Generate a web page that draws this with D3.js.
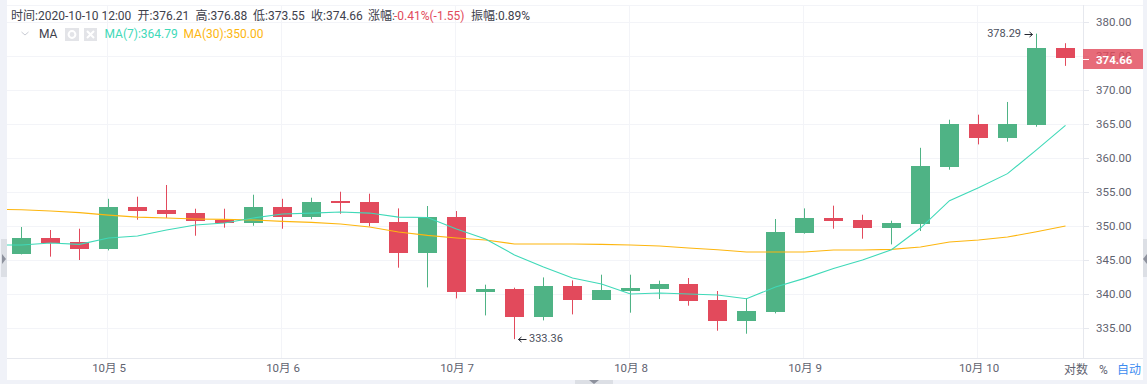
<!DOCTYPE html>
<html>
<head>
<meta charset="utf-8">
<script src="https://cdn.jsdelivr.net/npm/d3@7"></script>
<style>
html, body { margin: 0; padding: 0; background: #f0f2f8; overflow: hidden; }
text { font-family: Roboto, "Noto Sans CJK SC", sans-serif; }
</style>
</head>
<body>
<div id="container" style="width:1147px;height:384px"></div>
<script>
// data, 4h candles from 2020-10-04 12:00
const startTime = Date.UTC(2020, 9, 4, 12);
const opens = [345.82, 348.28, 347.69, 346.66, 352.84, 352.4, 351.96, 350.93, 350.49, 352.84, 351.37, 353.72, 353.57, 350.63, 346.07, 351.37, 340.34, 340.78, 336.66, 341.22, 339.16, 340.49, 340.78, 341.51, 339.16, 336.07, 337.4, 349.01, 351.22, 350.93, 349.75, 350.34, 358.72, 365.04, 363, 364.9, 376.21];
const closes = [348.28, 347.54, 346.66, 352.84, 352.25, 351.8, 350.78, 350.49, 352.84, 351.37, 353.57, 353.43, 350.49, 346.07, 351.37, 340.34, 340.78, 336.66, 341.22, 339.16, 340.63, 340.93, 341.51, 339.01, 336.07, 337.54, 349.16, 351.22, 350.78, 349.75, 350.49, 358.87, 365.04, 363, 365.04, 376.2, 374.66];
const highs = [349.85, 349.41, 349.6, 354, 354.31, 356.03, 352.54, 352.54, 354.6, 354, 354.16, 355.04, 354.75, 352.59, 352.94, 352.2, 341.37, 340.93, 342.44, 342, 342.84, 342.84, 341.96, 342.35, 340.44, 339.41, 351.03, 352.59, 352.99, 351.66, 350.78, 361.5, 365.63, 366.37, 368.24, 378.29, 376.88];
const lows = [345.82, 345.49, 345, 346.41, 350.93, 351.18, 348.57, 349.75, 350.04, 349.6, 351, 351.8, 349.94, 343.87, 340.97, 339.35, 336.85, 333.36, 336.12, 337, 339.16, 337.25, 339.26, 338.28, 334.6, 334.16, 337.15, 348.87, 349.6, 348.13, 347.3, 349.26, 358.28, 362, 362.4, 364.6, 373.55];
// the two MA lines start one candle earlier, off the left edge
const ma7 = [347.2, 347.2, 347.5, 347.3, 348.24, 348.53, 349.41, 350.15, 350.44, 351.18, 351.76, 351.9, 352.06, 351.9, 351.3, 351.26, 349.56, 348.09, 345.74, 343.97, 342.35, 341.47, 340, 340.15, 340, 339.85, 339.3, 341.03, 342.3, 343.76, 345, 346.5, 349.7, 353.72, 355.63, 357.7, 361.2, 364.79];
const ma30 = [352.45, 352.4, 352.2, 351.96, 351.6, 351.3, 351.18, 351.03, 350.97, 350.88, 350.68, 350.53, 350.29, 349.85, 349.12, 348.62, 348.24, 347.94, 347.35, 347.35, 347.35, 347.3, 347.2, 347.06, 346.76, 346.5, 346.18, 346.18, 346.18, 346.47, 346.47, 346.56, 346.91, 347.65, 347.94, 348.38, 349.16, 350];
const yTicks = [335, 340, 345, 350, 355, 360, 365, 370, 375, 380];
const dayTicks = [5, 6, 7, 8, 9, 10];

const H4 = 4 * 3600 * 1000;
const up = "#4fb385", down = "#e24a5c";
const grid = "#f3f4f8", axisLine = "#e6e8ee", labelColor = "#5f6370";

let width = 1147, height = 384;
let svg = d3.select("#container").append("svg")
    .attr("width", width).attr("height", height)
    .style("display", "block");

// panel
svg.append("rect").attr("x", 7).attr("y", 0).attr("width", 1136).attr("height", 380).attr("fill", "#fff");
svg.append("line").attr("x1", 7).attr("x2", 1143).attr("y1", 5.5).attr("y2", 5.5).attr("stroke", grid);

// scales
let xScale = d3.scaleUtc()
    .domain([new Date(startTime), new Date(startTime + 36 * H4)])
    .range([21.5, 1065.5]);
let yScale = d3.scaleLinear().domain([335, 380]).range([328, 22]);
let timeOf = i => new Date(startTime + i * H4);
let snap = v => Math.round(v);

// grid
svg.append("g").selectAll("line").data(yTicks).enter().append("line")
    .attr("x1", 7).attr("x2", 1083)
    .attr("y1", d => yScale(d) + 0.5).attr("y2", d => yScale(d) + 0.5)
    .attr("stroke", grid);
let dayDates = dayTicks.map(d => new Date(Date.UTC(2020, 9, d)));
svg.append("g").selectAll("line").data(dayDates).enter().append("line")
    .attr("x1", d => xScale(d) - 1).attr("x2", d => xScale(d) - 1)
    .attr("y1", 5).attr("y2", 358)
    .attr("stroke", grid);

// axes
let yg = svg.append("g").attr("transform", "translate(1083,0)")
    .call(d3.axisRight(yScale).tickValues(yTicks).tickFormat(d3.format(".2f")).tickSize(6).tickPadding(7));
yg.select(".domain").attr("stroke", axisLine).attr("d", "M0.5,5V358");
yg.selectAll(".tick line").attr("stroke", axisLine);
yg.selectAll("text").attr("fill", labelColor).style("font-size", "11.5px");

let xg = svg.append("g").attr("transform", "translate(0,358)")
    .call(d3.axisBottom(xScale).tickValues(dayDates).tickFormat(d => "10月 " + d.getUTCDate()).tickSize(0).tickPadding(6));
xg.select(".domain").attr("stroke", axisLine).attr("d", "M7,0.5H1143");
xg.selectAll("text").attr("fill", labelColor).style("font-size", "11.5px");

// candles
let plot = svg.append("g");
let candles = plot.selectAll("g").data(opens.map((o, i) => i)).enter().append("g");
let colorOf = i => closes[i] >= opens[i] ? up : down;
candles.append("line")
    .attr("x1", i => xScale(timeOf(i))).attr("x2", i => xScale(timeOf(i)))
    .attr("y1", i => yScale(highs[i])).attr("y2", i => yScale(lows[i]))
    .attr("stroke", colorOf);
candles.append("rect")
    .attr("x", i => xScale(timeOf(i)) - 9.5)
    .attr("width", 19)
    .attr("y", i => snap(yScale(Math.max(opens[i], closes[i]))))
    .attr("height", i => Math.max(1, snap(yScale(Math.min(opens[i], closes[i]))) - snap(yScale(Math.max(opens[i], closes[i])))))
    .attr("fill", colorOf);

// MA lines
svg.append("clipPath").attr("id", "plotClip").append("rect")
    .attr("x", 7).attr("y", 5).attr("width", 1076).attr("height", 353);
let line = d3.line()
    .x((d, i) => xScale(timeOf(i - 1)))
    .y(d => yScale(d));
[[ma30, "#fdb60f"], [ma7, "#3fd9b8"]].forEach(function (s) {
    svg.append("path")
        .attr("clip-path", "url(#plotClip)")
        .attr("d", line(s[0]))
        .attr("fill", "none")
        .attr("stroke", s[1])
        .attr("stroke-width", 1.1);
});

// max / min labels
function note(x, y, str, anchor) {
    svg.append("text").attr("x", x).attr("y", y).attr("text-anchor", anchor)
        .attr("fill", "#4b4f5c").style("font-size", "11px").text(str);
}
function arrow(x1, x2, y) {
    let dir = x2 > x1 ? -1 : 1;
    svg.append("path")
        .attr("d", "M" + x1 + "," + y + "H" + x2 + "m" + (3 * dir) + ",-2.5l" + (-3 * dir) + ",2.5l" + (3 * dir) + ",2.5")
        .attr("fill", "none").attr("stroke", "#23262f");
}
let hiIdx = d3.maxIndex(highs), loIdx = d3.minIndex(lows);
note(xScale(timeOf(hiIdx)) - 15.5, yScale(highs[hiIdx]) + 3.5, highs[hiIdx].toFixed(2), "end");
arrow(xScale(timeOf(hiIdx)) - 12, xScale(timeOf(hiIdx)) - 4, Math.round(yScale(highs[hiIdx])) + 0.5);
note(xScale(timeOf(loIdx)) + 14.5, yScale(lows[loIdx]) + 2.8, lows[loIdx].toFixed(2), "start");
arrow(xScale(timeOf(loIdx)) + 12, xScale(timeOf(loIdx)) + 4, Math.round(yScale(lows[loIdx])) + 0.5);

// last price tag
let last = closes[closes.length - 1];
svg.append("rect").attr("x", 1083).attr("y", 49).attr("width", 60).attr("height", 20)
    .attr("fill", down).attr("fill-opacity", 0.82);
svg.append("line").attr("x1", 1083).attr("x2", 1089).attr("y1", 59.5).attr("y2", 59.5).attr("stroke", "#fff");
svg.append("text").attr("x", 1096).attr("y", 63.5).attr("fill", "#fff")
    .style("font-size", "11.5px").style("font-weight", "bold").text(last.toFixed(2));

// header text
function label(x, y, str, color) {
    svg.append("text").attr("x", x).attr("y", y).attr("fill", color)
        .style("font-size", "12px").text(str);
}
let ink = "#3e414c";
label(11, 20, "时间:2020-10-10 12:00", ink);
label(137.5, 20, "开:376.21", ink);
label(195.5, 20, "高:376.88", ink);
label(253, 20, "低:373.55", ink);
label(311, 20, "收:374.66", ink);
label(368, 20, "涨幅:", ink);
label(394, 20, "-0.41%(-1.55)", down);
label(471, 20, "振幅:0.89%", ink);
label(39, 38, "MA", ink);
label(104.5, 38, "MA(7):" + ma7[ma7.length - 1].toFixed(2), "#3fd9b8");
label(183.5, 38, "MA(30):" + ma30[ma30.length - 1].toFixed(2), "#fdb60f");

// legend icons
svg.append("path").attr("d", "M21.5,32l3.5,3l3.5,-3").attr("fill", "none").attr("stroke", "#c9ccd4");
svg.append("rect").attr("x", 65).attr("y", 28).attr("width", 14).attr("height", 13).attr("fill", "#e3e4e8");
svg.append("circle").attr("cx", 72).attr("cy", 34.5).attr("r", 3.4).attr("fill", "none").attr("stroke", "#fff").attr("stroke-width", 2);
svg.append("rect").attr("x", 84).attr("y", 28).attr("width", 13).attr("height", 13).attr("fill", "#e3e4e8");
svg.append("path").attr("d", "M87,31l7,7m0,-7l-7,7").attr("stroke", "#fff").attr("stroke-width", 2);

// bottom right buttons
label(1064, 374, "对数", "#5f6370");
label(1099, 374, "%", "#5f6370");
label(1117, 374, "自动", "#3d8cf0");

// side handles
svg.append("rect").attr("x", 1).attr("y", 239).attr("width", 6).attr("height", 38).attr("fill", "#dcdfe5");
svg.append("path").attr("d", "M2,254v10l4,-5z").attr("fill", "#8d919d");
svg.append("rect").attr("x", 1143).attr("y", 239).attr("width", 4).attr("height", 38).attr("fill", "#dcdfe5");
svg.append("path").attr("d", "M1147,254v10l-4,-5z").attr("fill", "#8d919d");
svg.append("rect").attr("x", 575).attr("y", 380).attr("width", 38).attr("height", 4).attr("fill", "#dcdfe5");
svg.append("path").attr("d", "M589,380h10l-5,4z").attr("fill", "#8d919d");
</script>
</body>
</html>
